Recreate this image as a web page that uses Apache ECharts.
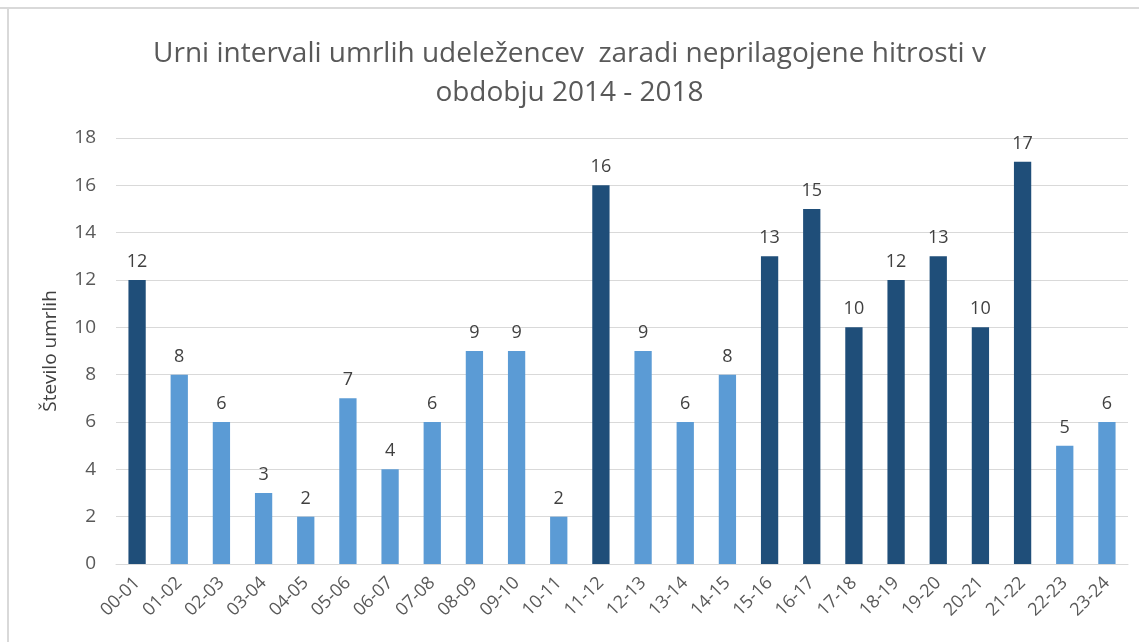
<!DOCTYPE html>
<html>
<head>
<meta charset="utf-8">
<script src="https://cdn.jsdelivr.net/npm/echarts@6/dist/echarts.min.js"></script>
<style>
html,body{margin:0;padding:0;background:#fff}
#main{width:1139px;height:642px}
</style>
</head>
<body>
<div id="main"></div>
<script>
// urni intervali
var hours = ['00-01','01-02','02-03','03-04','04-05','05-06','06-07','07-08','08-09','09-10','10-11','11-12',
	'12-13','13-14','14-15','15-16','16-17','17-18','18-19','19-20','20-21','21-22','22-23','23-24']
var deaths = [12,8,6,3,2,7,4,6,9,9,2,16,9,6,8,13,15,10,12,13,10,17,5,6]
var yTicks = [0,18,2]

var temno = '#1F4E79'
var svetlo = '#5B9BD5'

var chart = echarts.init(document.getElementById('main'))
var option = {
	animation: false,
	backgroundColor: '#fff',
	title: {
		text: 'Urni intervali umrlih udeležencev  zaradi neprilagojene hitrosti v\nobdobju 2014 - 2018',
		left: 'center',
		top: 30,
		textStyle: {
			fontFamily: 'Open Sans',
			fontWeight: 'normal',
			fontSize: 28,
			color: '#595959',
			lineHeight: 39
		}
	},
	graphic: [
		{type: 'rect', shape: {x: 0, y: 7, width: 1139, height: 2}, style: {fill: '#d9d9d9'}},
		{type: 'rect', shape: {x: 7, y: 7, width: 2, height: 642}, style: {fill: '#d9d9d9'}}
	],
	grid: {left: 116, right: 11, top: 138, bottom: 78},
	xAxis: {
		type: 'category',
		data: hours,
		axisTick: {show: false},
		axisLine: {lineStyle: {color: '#d9d9d9', width: 1}},
		axisLabel: {
			rotate: 45,
			interval: 0,
			margin: 16,
			fontFamily: 'Open Sans',
			fontSize: 18,
			color: '#595959'
		}
	},
	yAxis: {
		type: 'value',
		min: yTicks[0],
		max: yTicks[1],
		interval: yTicks[2],
		name: 'Število umrlih',
		nameLocation: 'middle',
		nameGap: 56,
		nameRotate: 90,
		nameTextStyle: {fontFamily: 'Open Sans', fontSize: 19, color: '#404040'},
		axisLine: {show: false},
		axisTick: {show: false},
		splitLine: {lineStyle: {color: '#d9d9d9'}},
		axisLabel: {fontFamily: 'Open Sans', fontSize: 19, color: '#595959', margin: 20}
	},
	series: [{
		type: 'bar',
		data: deaths.map(function(v){
			return {value: v, itemStyle: {color: v >= 10 ? temno : svetlo}}
		}),
		barWidth: '41%',
		label: {
			show: true,
			position: 'top',
			distance: 9,
			fontFamily: 'Open Sans',
			fontSize: 18,
			color: '#404040'
		}
	}]
}
chart.setOption(option)
</script>
</body>
</html>
